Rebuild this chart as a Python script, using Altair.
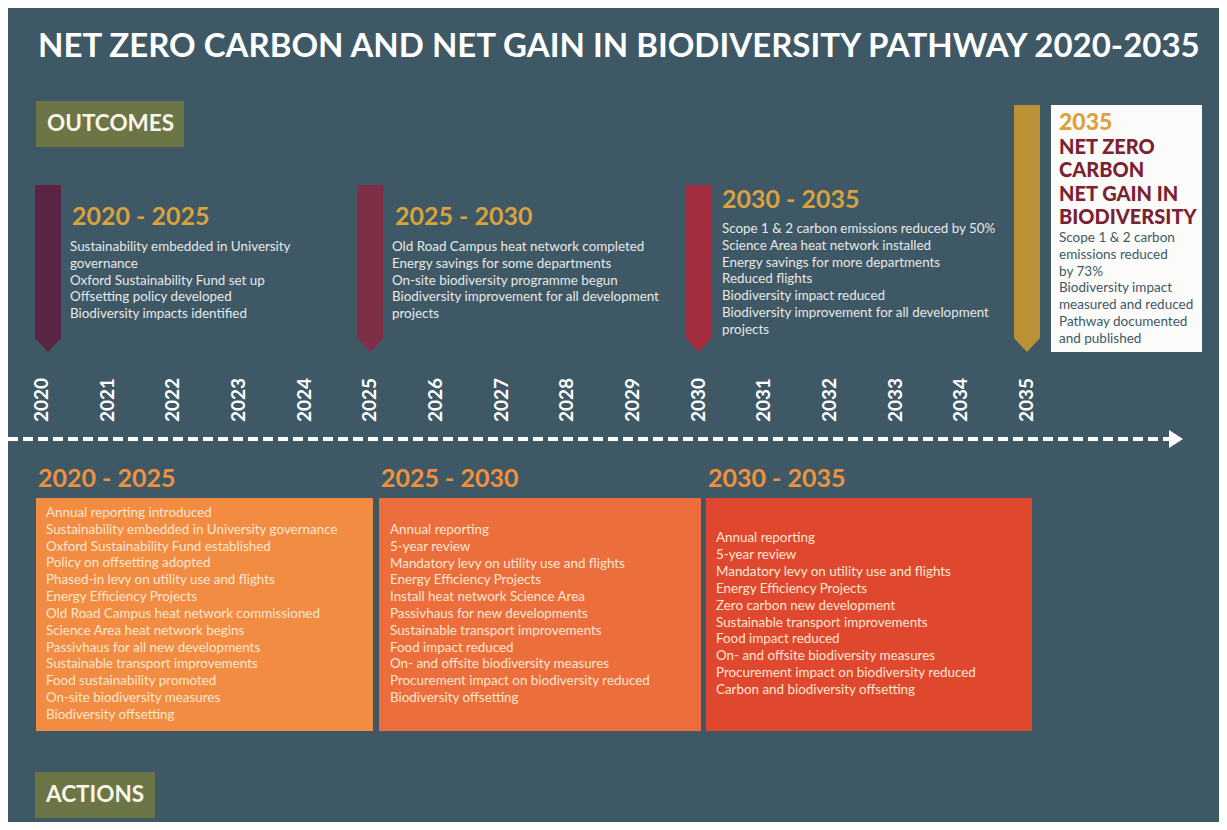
import altair as alt
import pandas as pd

# ---------------- data ----------------
TITLE = "NET ZERO CARBON AND NET GAIN IN BIODIVERSITY PATHWAY 2020-2035"
YEARS = list(range(2020, 2036))
PERIODS = ["2020 - 2025", "2025 - 2030", "2030 - 2035"]
PERIOD_STARTS = [2020, 2025, 2030]
MILESTONE_YEAR = 2035

OUTCOMES_2020 = ["Sustainability embedded in University", "governance",
                 "Oxford Sustainability Fund set up", "Offsetting policy developed",
                 "Biodiversity impacts identified"]
OUTCOMES_2025 = ["Old Road Campus heat network completed", "Energy savings for some departments",
                 "On-site biodiversity programme begun",
                 "Biodiversity improvement for all development", "projects"]
OUTCOMES_2030 = ["Scope 1 & 2 carbon emissions reduced by 50%", "Science Area heat network installed",
                 "Energy savings for more departments", "Reduced flights",
                 "Biodiversity impact reduced",
                 "Biodiversity improvement for all development", "projects"]
GOAL_HEAD = ["NET ZERO", "CARBON", "NET GAIN IN", "BIODIVERSITY"]
GOAL_TEXT = ["Scope 1 & 2 carbon", "emissions reduced", "by 73%", "Biodiversity impact",
             "measured and reduced", "Pathway documented", "and published"]

ACTIONS_2020 = ["Annual reporting introduced", "Sustainability embedded in University governance",
                "Oxford Sustainability Fund established", "Policy on offsetting adopted",
                "Phased-in levy on utility use and flights", "Energy Efficiency Projects",
                "Old Road Campus heat network commissioned", "Science Area heat network begins",
                "Passivhaus for all new developments", "Sustainable transport improvements",
                "Food sustainability promoted", "On-site biodiversity measures",
                "Biodiversity offsetting"]
ACTIONS_2025 = ["Annual reporting", "5-year review", "Mandatory levy on utility use and flights",
                "Energy Efficiency Projects", "Install heat network Science Area",
                "Passivhaus for new developments", "Sustainable transport improvements",
                "Food impact reduced", "On- and offsite biodiversity measures",
                "Procurement impact on biodiversity reduced", "Biodiversity offsetting"]
ACTIONS_2030 = ["Annual reporting", "5-year review", "Mandatory levy on utility use and flights",
                "Energy Efficiency Projects", "Zero carbon new development",
                "Sustainable transport improvements", "Food impact reduced",
                "On- and offsite biodiversity measures",
                "Procurement impact on biodiversity reduced",
                "Carbon and biodiversity offsetting"]

# ---------------- style / layout ----------------
BG = "#3e5965"
OLIVE = "#6b7546"
RIBBONS = ["#5b2444", "#7e2f45", "#a32c3e", "#bb9136"]
GOLD = "#d9a23e"
ORANGE_HEAD = "#f0913f"
BOXES = ["#f28c43", "#ec6e3c", "#e0472f"]
ACT_TEXT = "#fde6cf"
OUT_TEXT = "#e8e8e8"
MAROON = "#7b2232"
FONT = "Lato"

W, H = 1211, 814
PX_PER_YEAR = (1027 - 42) / 15.0


def yr(px):
    return 2020 + (px - 42) / PX_PER_YEAR


def px_span(n):
    return n / PX_PER_YEAR


XS = alt.Scale(domain=[yr(8), yr(8 + W)], nice=False, zero=False)
YS = alt.Scale(domain=[8 + H, 8], nice=False, zero=False)


def enc_xy(x="x", y="y"):
    return dict(x=alt.X(f"{x}:Q", scale=XS, axis=None), y=alt.Y(f"{y}:Q", scale=YS, axis=None))


def rect_layer(rows, color):
    df = pd.DataFrame(rows, columns=["x0", "x1", "y0", "y1"])
    return alt.Chart(df).mark_rect(color=color).encode(
        x=alt.X("x0:Q", scale=XS, axis=None), x2="x1:Q",
        y=alt.Y("y0:Q", scale=YS, axis=None), y2="y1:Q")


def text_layer(rows, size, color, weight="normal", angle=0, align="left"):
    df = pd.DataFrame(rows, columns=["x", "y", "t"])
    return alt.Chart(df).mark_text(
        font=FONT, fontSize=size, color=color, fontWeight=weight, angle=angle,
        align=align, baseline="middle").encode(text="t:N", **enc_xy())


def lines(items, x_px, y0, step):
    return [(yr(x_px), y0 + i * step, s) for i, s in enumerate(items)]


layers = []

# title
layers.append(text_layer([(yr(38), 47, TITLE)], 33, "white", "bold"))

# section labels
layers.append(rect_layer([(yr(36), yr(184), 101, 147), (yr(35), yr(155), 772, 818)], OLIVE))
layers.append(text_layer([(yr(47), 124, "OUTCOMES"), (yr(46), 795, "ACTIONS")], 22.5, "#fbf6ea", "bold"))

# outcome ribbons (pointed banners), drawn through the year scale
rib_rows = []
half = px_span(13)
tops = [185, 185, 185, 105]
for i, year in enumerate(PERIOD_STARTS + [MILESTONE_YEAR]):
    c = year if i else yr(48)
    rib_rows += [(f"r{i}", c - half, tops[i], 338), (f"r{i}", c, tops[i], 352),
                 (f"r{i}", c + half, tops[i], 338)]
rib = pd.DataFrame(rib_rows, columns=["g", "x", "y", "y2"])
layers.append(alt.Chart(rib).mark_area(interpolate="linear").encode(
    x=alt.X("x:Q", scale=XS, axis=None), y=alt.Y("y:Q", scale=YS, axis=None), y2="y2:Q",
    color=alt.Color("g:N", scale=alt.Scale(domain=["r0", "r1", "r2", "r3"], range=RIBBONS), legend=None),
    detail="g:N"))

# outcome headers and text
layers.append(text_layer([(yr(72), 217, PERIODS[0]), (yr(395), 217, PERIODS[1]),
                          (yr(722), 200, PERIODS[2])], 25, GOLD, "bold"))
out_rows = lines(OUTCOMES_2020, 70, 247, 16.8) + lines(OUTCOMES_2025, 392, 247, 16.8) \
    + lines(OUTCOMES_2030, 722, 229, 16.8)
layers.append(text_layer(out_rows, 13.4, OUT_TEXT))

# 2035 goal box
layers.append(rect_layer([(yr(1051), yr(1202), 105, 352)], "#fbfbfa"))
layers.append(text_layer([(yr(1059), 123, str(MILESTONE_YEAR))], 23, GOLD, 900))
layers.append(text_layer(lines(GOAL_HEAD, 1059, 148, 23.3), 20, MAROON, 900))
layers.append(text_layer(lines(GOAL_TEXT, 1059, 238, 16.8), 13.5, BG))

# year axis labels
layers.append(text_layer([(y, 400, str(y)) for y in YEARS], 19, "white", "bold", angle=270, align="center"))

# dashed timeline with arrow
line_df = pd.DataFrame({"x0": [yr(8)], "x1": [yr(1170)], "y": [439]})
layers.append(alt.Chart(line_df).mark_rule(color="white", strokeWidth=4, strokeDash=[10, 5]).encode(
    x=alt.X("x0:Q", scale=XS, axis=None), x2="x1:Q", y=alt.Y("y:Q", scale=YS, axis=None)))
arrow = pd.DataFrame({"x": [yr(1169), yr(1183)], "y": [430, 439], "y2": [448, 439]})
layers.append(alt.Chart(arrow).mark_area(color="white").encode(
    x=alt.X("x:Q", scale=XS, axis=None), y=alt.Y("y:Q", scale=YS, axis=None), y2="y2:Q"))

# action headers, boxes, text
layers.append(text_layer([(yr(38), 479, PERIODS[0]), (yr(381), 479, PERIODS[1]),
                          (yr(708), 479, PERIODS[2])], 25, ORANGE_HEAD, "bold"))
box_x = [(36, 373), (379, 701), (706, 1032)]
for (a, b), col in zip(box_x, BOXES):
    layers.append(rect_layer([(yr(a), yr(b), 498, 731)], col))
act_rows = lines(ACTIONS_2020, 46, 513, 16.83) + lines(ACTIONS_2025, 390, 530, 16.8) \
    + lines(ACTIONS_2030, 716, 538, 16.9)
layers.append(text_layer(act_rows, 13.4, ACT_TEXT))

chart = alt.layer(*layers).properties(
    width=W, height=H, background=BG, padding=0, autosize="none"
).configure_view(strokeWidth=0)

chart.save("out.html", embed_options={"renderer": "svg", "actions": False})
